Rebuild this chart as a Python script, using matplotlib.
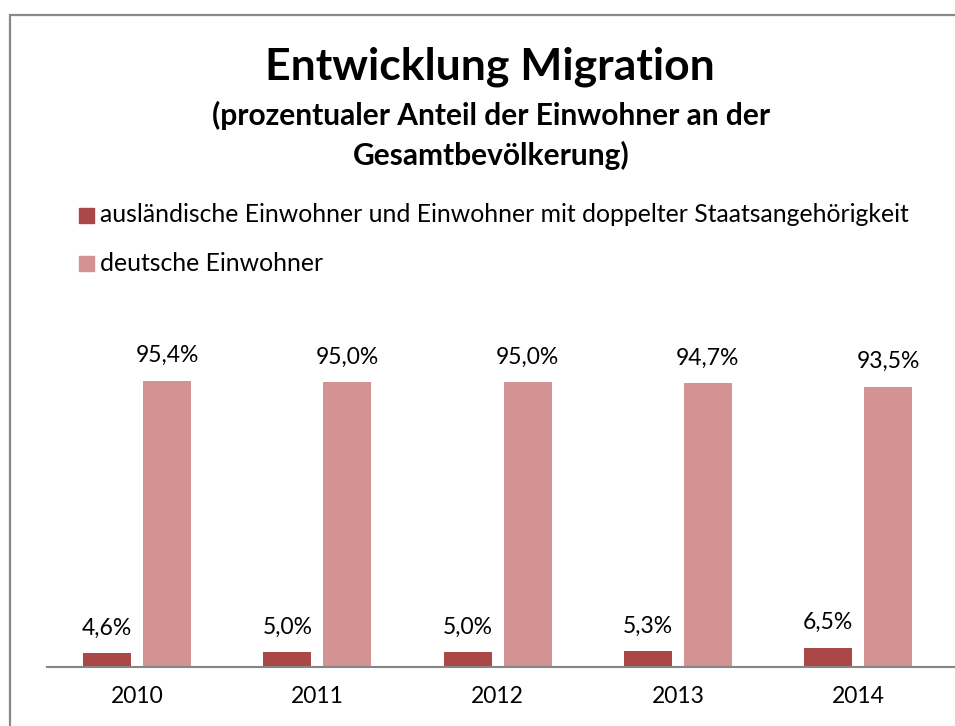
import matplotlib.pyplot as plt
from matplotlib.patches import Rectangle

# data
years = ["2010", "2011", "2012", "2013", "2014"]
auslaendisch = [4.6, 5.0, 5.0, 5.3, 6.5]
deutsch = [95.4, 95.0, 95.0, 94.7, 93.5]
legend_labels = ["ausländische Einwohner und Einwohner mit doppelter Staatsangehörigkeit",
                 "deutsche Einwohner"]

col_aus = "#A94846"
col_de = "#D39392"
W, H = 955, 726

plt.rcParams["font.family"] = ["Lato", "DejaVu Sans"]

fig = plt.figure(figsize=(W / 100, H / 100), dpi=100)

# frame of the chart area (cut off at right and bottom)
fig.add_artist(Rectangle((10 / W, -0.1), 1.2, 1.1 - 15 / H, transform=fig.transFigure,
                         fill=False, edgecolor="#888888", lw=1.6))

ax = fig.add_axes([47 / W, 59 / H, (W - 47) / W, 300 / H])
px = 180.25
x = list(range(len(years)))
off = 30 / px
bw = 48 / px
ax.bar([i - off for i in x], auslaendisch, width=bw, color=col_aus)
ax.bar([i + off for i in x], deutsch, width=bw, color=col_de)

for i in x:
    for xx, v in ((i - off, auslaendisch[i]), (i + off, deutsch[i])):
        ax.annotate(f"{v:.1f}%".replace(".", ","), (xx, v), xytext=(0, 18),
                    textcoords="offset points", ha="center", va="center", fontsize=16.5)

ax.set_xlim(-0.5, -0.5 + (W - 47) / px)
ax.set_ylim(0, 100)
ax.set_yticks([])
ax.set_xticks(x)
ax.set_xticklabels(years, fontsize=16.5)
ax.tick_params(axis="x", length=0, pad=14)
for s in ["top", "right", "left"]:
    ax.spines[s].set_visible(False)
ax.spines["bottom"].set_color("#868686")
ax.spines["bottom"].set_linewidth(1.5)

fig.text(490 / W, 1 - 67 / H, "Entwicklung Migration", ha="center", va="center",
         fontsize=32, fontweight="bold")
fig.text(491 / W, 1 - 115 / H, "(prozentualer Anteil der Einwohner an der",
         ha="center", va="center", fontsize=21.5, fontweight="bold")
fig.text(491 / W, 1 - 155 / H, "Gesamtbevölkerung)",
         ha="center", va="center", fontsize=21.5, fontweight="bold")

# legend
for yc, c, lab in ((215, col_aus, legend_labels[0]), (263.5, col_de, legend_labels[1])):
    fig.add_artist(Rectangle((79 / W, 1 - (yc + 7.5) / H), 15 / W, 15 / H,
                             transform=fig.transFigure, color=c))
    fig.text(100 / W, 1 - yc / H, lab, ha="left", va="center", fontsize=17.8)

fig.savefig("out.png", dpi=100)
